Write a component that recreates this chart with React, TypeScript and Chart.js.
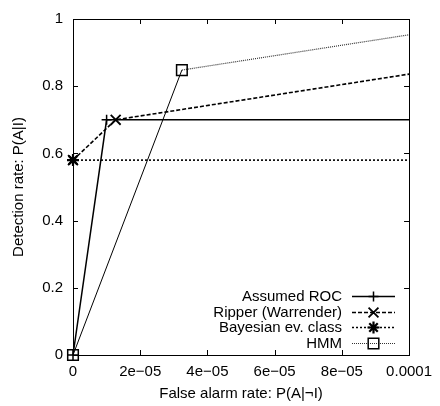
import React, { useEffect, useRef } from "react";
import { Chart, registerables } from "chart.js";
Chart.register(...registerables);

const xTicks = [0, 2e-5, 4e-5, 6e-5, 8e-5, 1e-4];
const xTickLabels = ["0", "2e\u221205", "4e\u221205", "6e\u221205", "8e\u221205", "0.0001"];
const yTicks = [0, 0.2, 0.4, 0.6, 0.8, 1];
const yTickLabels = ["0", "0.2", "0.4", "0.6", "0.8", "1"];

const seriesNames = ["Assumed ROC", "Ripper (Warrender)", "Bayesian ev. class", "HMM"];
const assumedRocX = [0, 1.0e-5, 1e-4];
const assumedRocY = [0, 0.7, 0.7];
const ripperX = [0, 1.27e-5, 1e-4];
const ripperY = [0.58, 0.7, 0.836];
const bayesX = [0, 1e-4];
const bayesY = [0.58, 0.58];
const hmmX = [0, 3.24e-5, 1e-4];
const hmmY = [0, 0.848, 0.953];

const xTitle = "False alarm rate: P(A|\u00acI)";
const yTitle = "Detection rate: P(A|I)";

const FONT = "'Liberation Sans', Arial, Helvetica, sans-serif";

const toPts = (xs: number[], ys: number[]) => xs.map((x, i) => ({ x, y: ys[i] }));

type Style = {
  dash: number[];
  width: number;
  color: string;
  point: string;
  radius: number;
  markerWidth: number;
};
const styles: Style[] = [
  { dash: [], width: 1.5, color: "#000", point: "cross", radius: 5, markerWidth: 1.5 },
  { dash: [4, 2], width: 1.6, color: "#000", point: "crossRot", radius: 7, markerWidth: 1.8 },
  { dash: [2, 2], width: 1.6, color: "#000", point: "star", radius: 6, markerWidth: 2.2 },
  { dash: [1, 1], width: 1.2, color: "#333", point: "rect", radius: 7.5, markerWidth: 1.5 },
];

function drawMarker(ctx: CanvasRenderingContext2D, kind: string, x: number, y: number, r: number) {
  ctx.beginPath();
  if (kind === "cross" || kind === "star") {
    ctx.moveTo(x - r, y); ctx.lineTo(x + r, y);
    ctx.moveTo(x, y - r); ctx.lineTo(x, y + r);
  }
  if (kind === "crossRot" || kind === "star") {
    const d = r * Math.SQRT1_2;
    ctx.moveTo(x - d, y - d); ctx.lineTo(x + d, y + d);
    ctx.moveTo(x - d, y + d); ctx.lineTo(x + d, y - d);
  }
  if (kind === "rect") {
    const s = r * Math.SQRT1_2;
    ctx.rect(x - s, y - s, 2 * s, 2 * s);
  }
  ctx.stroke();
}

const framePlugin = {
  id: "frame",
  afterDraw(chart: any) {
    const { ctx, chartArea: a, scales } = chart;
    ctx.save();
    ctx.strokeStyle = "#000";
    ctx.lineWidth = 1;
    ctx.setLineDash([]);
    ctx.strokeRect(Math.round(a.left) + 0.5, Math.round(a.top) + 0.5, Math.round(a.right - a.left), Math.round(a.bottom - a.top));
    const tl = 5;
    ctx.beginPath();
    xTicks.forEach((v) => {
      const px = Math.round(scales.x.getPixelForValue(v)) + 0.5;
      ctx.moveTo(px, a.bottom); ctx.lineTo(px, a.bottom - tl);
      ctx.moveTo(px, a.top); ctx.lineTo(px, a.top + tl);
    });
    yTicks.forEach((v) => {
      const py = Math.round(scales.y.getPixelForValue(v)) + 0.5;
      ctx.moveTo(a.left, py); ctx.lineTo(a.left + tl, py);
      ctx.moveTo(a.right, py); ctx.lineTo(a.right - tl, py);
    });
    ctx.stroke();

    // legend
    const textRight = 342;
    const lineL = 352;
    const lineR = 395;
    const rowY = [296, 312, 327, 343];
    ctx.font = `15px ${FONT}`;
    ctx.fillStyle = "#000";
    ctx.textAlign = "right";
    ctx.textBaseline = "middle";
    seriesNames.forEach((name, i) => {
      const st = styles[i];
      const y = rowY[i];
      ctx.fillText(name, textRight, y + 1);
      ctx.strokeStyle = st.color;
      ctx.lineWidth = st.width;
      ctx.setLineDash(st.dash);
      ctx.beginPath();
      ctx.moveTo(lineL, y + 0.5);
      ctx.lineTo(lineR, y + 0.5);
      ctx.stroke();
      ctx.setLineDash([]);
      ctx.strokeStyle = "#000";
      ctx.lineWidth = st.markerWidth;
      drawMarker(ctx, st.point, (lineL + lineR) / 2, y + 0.5, st.radius);
    });
    ctx.restore();
  },
};

export default function App() {
  const ref = useRef<HTMLCanvasElement>(null);
  useEffect(() => {
    if (!ref.current) return;
    const series = [
      toPts(assumedRocX, assumedRocY),
      toPts(ripperX, ripperY),
      toPts(bayesX, bayesY),
      toPts(hmmX, hmmY),
    ];
    const chart = new Chart(ref.current, {
      type: "line",
      data: {
        datasets: series.map((pts, i) => {
          const st = styles[i];
          const isHmm = i === 3;
          return {
            label: seriesNames[i],
            data: pts,
            borderColor: st.color,
            borderWidth: st.width,
            borderDash: st.dash,
            segment: isHmm
              ? {
                  borderDash: (c: any) => (c.p0DataIndex === 0 ? [] : st.dash),
                  borderColor: (c: any) => (c.p0DataIndex === 0 ? "#000" : st.color),
                  borderWidth: (c: any) => (c.p0DataIndex === 0 ? 1 : st.width),
                }
              : undefined,
            pointStyle: st.point as any,
            pointRadius: pts.map((_, j) => (j === pts.length - 1 ? 0 : st.radius)),
            pointBorderColor: "#000",
            pointBorderWidth: st.markerWidth,
            pointBackgroundColor: "rgba(0,0,0,0)",
            tension: 0,
            fill: false,
            clip: false as any,
          };
        }),
      },
      options: {
        animation: false,
        responsive: true,
        maintainAspectRatio: false,
        layout: { padding: { left: 0, top: 14, right: 28, bottom: 0 } },
        plugins: { legend: { display: false }, tooltip: { enabled: false } },
        scales: {
          x: {
            type: "linear",
            min: 0,
            max: 1e-4,
            afterBuildTicks: (s: any) => {
              s.ticks = xTicks.map((v) => ({ value: v }));
            },
            afterFit: (s: any) => {
              s.height = 51;
            },
            ticks: {
              callback: (_v: any, i: number) => xTickLabels[i],
              color: "#000",
              font: { family: FONT, size: 15 },
              padding: 8,
              maxRotation: 0,
              autoSkip: false,
            },
            grid: { display: false, drawTicks: false },
            border: { display: false },
            title: {
              display: true,
              text: xTitle,
              color: "#000",
              font: { family: FONT, size: 15 },
              padding: { top: 0, bottom: 3 },
            },
          },
          y: {
            type: "linear",
            min: 0,
            max: 1,
            afterBuildTicks: (s: any) => {
              s.ticks = yTicks.map((v) => ({ value: v }));
            },
            afterFit: (s: any) => {
              s.width = 73;
            },
            ticks: {
              callback: (_v: any, i: number) => yTickLabels[i],
              color: "#000",
              font: { family: FONT, size: 15 },
              padding: 10,
              autoSkip: false,
            },
            grid: { display: false, drawTicks: false },
            border: { display: false },
            title: {
              display: true,
              text: yTitle,
              color: "#000",
              font: { family: FONT, size: 15 },
              padding: { top: 10, bottom: 0 },
            },
          },
        },
      },
      plugins: [framePlugin],
    });
    return () => chart.destroy();
  }, []);
  return (
    <div style={{ position: "absolute", left: 0, top: 0, width: 440, height: 406, background: "#fff" }}>
      <canvas ref={ref} />
    </div>
  );
}
